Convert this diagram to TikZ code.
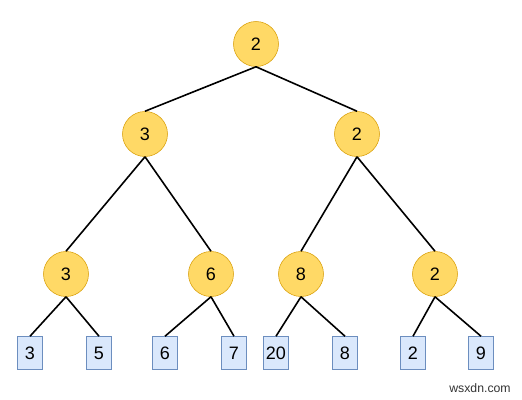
\documentclass[tikz,border=0pt]{standalone}
\usepackage{fontspec}
\setmainfont{Liberation Sans}
\usepackage{xcolor}
\definecolor{minFill}{HTML}{FFD966}
\definecolor{minLine}{HTML}{D79B00}
\definecolor{leafFill}{HTML}{DAE8FC}
\definecolor{leafLine}{HTML}{6C8EBF}

\begin{document}
\begin{tikzpicture}[x=0.75pt, y=-0.75pt,
  font=\fontsize{13.5}{16}\selectfont,
  minnode/.style={circle, draw=minLine, fill=minFill, minimum size=33.75pt, inner sep=0pt},
  leaf/.style={rectangle, draw=leafLine, fill=leafFill, minimum width=18.75pt, minimum height=24.75pt, inner sep=0pt},
  edge/.style={line width=1.2pt, black}]
  \useasboundingbox (0,0) rectangle (522,400);
  % Root and inner nodes
  \node[minnode] (root) at (256,44) {2};
  \node[minnode] (l) at (145,134) {3};
  \node[minnode] (r) at (357,134) {2};
  \node[minnode] (ll) at (66,274) {3};
  \node[minnode] (lr) at (211,274) {6};
  \node[minnode] (rl) at (301,274) {8};
  \node[minnode] (rr) at (435,274) {2};
  % Leaves
  \node[leaf] (a) at (30,353) {3};
  \node[leaf] (b) at (99,353) {5};
  \node[leaf] (c) at (165,353) {6};
  \node[leaf] (d) at (234,353) {7};
  \node[leaf] (e) at (276,353) {20};
  \node[leaf] (f) at (345,353) {8};
  \node[leaf] (g) at (413,353) {2};
  \node[leaf] (h) at (481,353) {9};
  % Edges
  \foreach \p/\c in {root/l, root/r, l/ll, l/lr, r/rl, r/rr,
                     ll/a, ll/b, lr/c, lr/d, rl/e, rl/f, rr/g, rr/h}
    \draw[edge] (\p.south) -- (\c.north);
  % Watermark
  \node[font=\fontsize{9.2}{11}\selectfont, text=black!80] (mark) at (480,388) {wsxdn.com};
\end{tikzpicture}
\end{document}
